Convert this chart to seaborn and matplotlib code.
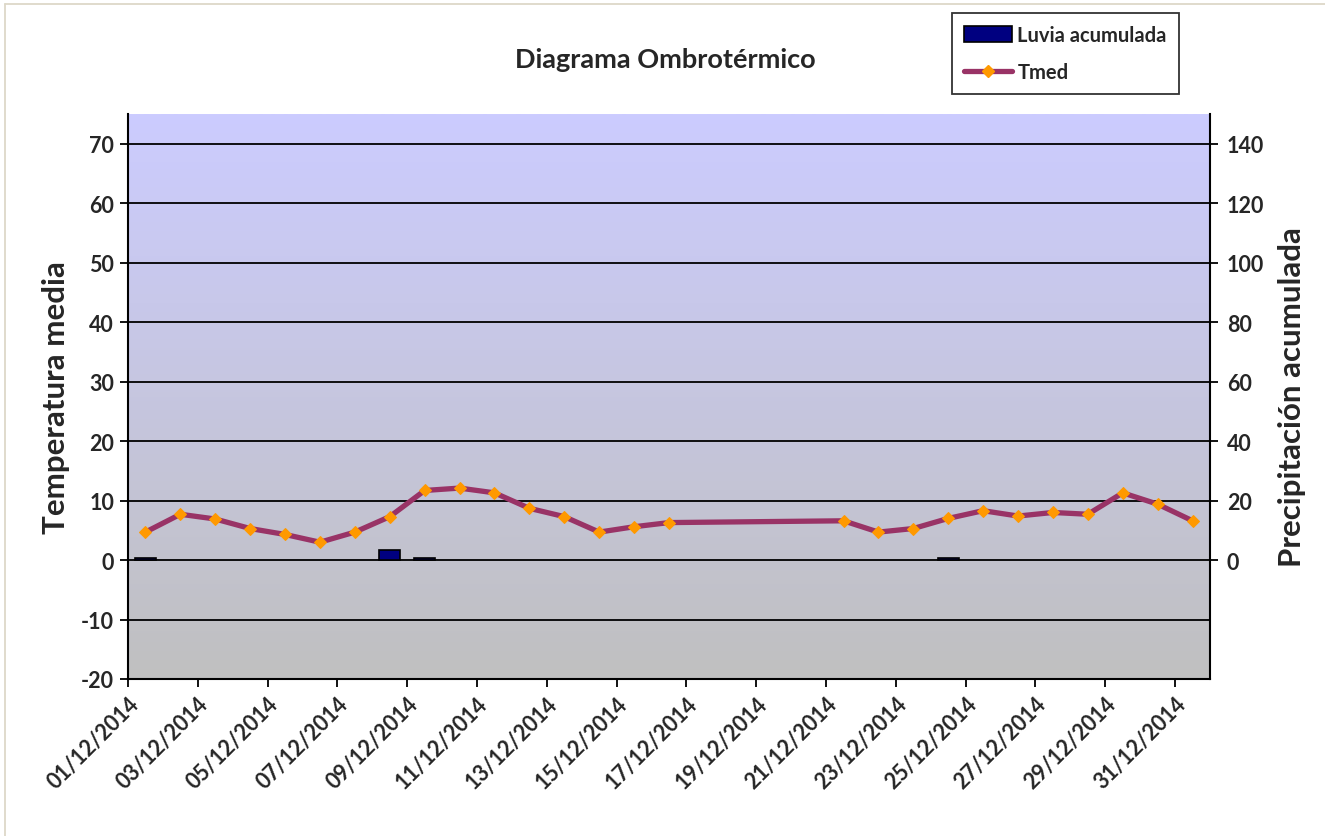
import numpy as np
import pandas as pd
import matplotlib
matplotlib.use("Agg")
import matplotlib.pyplot as plt
from matplotlib.colors import LinearSegmentedColormap
from matplotlib.lines import Line2D
from matplotlib.patches import Patch
import seaborn as sns

# Data (December 2014)
temp_days = [1, 2, 3, 4, 5, 6, 7, 8, 9, 10, 11, 12, 13, 14, 15, 16,
             21, 22, 23, 24, 25, 26, 27, 28, 29, 30, 31]
tmed = [4.7, 7.7, 6.9, 5.3, 4.3, 3.0, 4.7, 7.3, 11.7, 12.1, 11.3, 8.7, 7.3, 4.7, 5.6, 6.3,
        6.6, 4.7, 5.3, 7.0, 8.3, 7.4, 8.0, 7.7, 11.3, 9.4, 6.6]
rain_days = [1, 8, 9, 24]
rain = [0.8, 3.5, 0.8, 0.8]
tick_days = list(range(1, 32, 2))
tick_labels = [f"{d:02d}/12/2014" for d in tick_days]

sns.set_style("white")
plt.rcParams['font.family'] = ['Lato', 'DejaVu Sans']
plt.rcParams['font.weight'] = 'bold'
plt.rcParams['axes.unicode_minus'] = False

fig = plt.figure(figsize=(13.25, 8.37), dpi=100)
ax = fig.add_axes([128 / 1325, 1 - 680 / 837, (1210 - 128) / 1325, (680 - 115) / 837])

# gradient background (lavender on top to grey at bottom)
cmap = LinearSegmentedColormap.from_list("bg", ["#C0C0C0", "#CCCCFF"])
grad = np.linspace(0, 1, 256).reshape(-1, 1)
ax.imshow(grad, extent=[0, 1, 0, 1], transform=ax.transAxes, aspect='auto',
          cmap=cmap, origin='lower', zorder=0)

df_t = pd.DataFrame({"day": temp_days, "tmed": tmed})
sns.lineplot(data=df_t, x="day", y="tmed", ax=ax, color="#993366", lw=3.8,
             marker="D", markersize=6.5, markerfacecolor="#FF9900",
             markeredgecolor="#FF9900", sort=False, zorder=3)

ax.set_xlim(0.5, 31.5)
ax.set_ylim(-20, 75)
ax.set_yticks(range(-20, 71, 10))
ax.set_xticks([d - 0.5 for d in tick_days])
ax.set_xticklabels(tick_labels, rotation=45, ha='right', rotation_mode='anchor',
                   fontsize=15.5, fontweight='bold')
for lab in ax.get_yticklabels():
    lab.set_fontsize(15.5)
    lab.set_fontweight('bold')
for y in range(-10, 71, 10):
    ax.axhline(y, color='black', lw=1.3, zorder=1)
ax.tick_params(axis='both', direction='out', length=6, width=1.3, color='black',
               left=True, bottom=True, pad=4)
ax.set_xlabel("")
ax.set_ylabel("Temperatura media", fontsize=22.5, fontweight='bold', labelpad=8)
for s in ['left', 'bottom', 'right']:
    ax.spines[s].set_color('black')
    ax.spines[s].set_linewidth(1.5)
ax.spines['top'].set_visible(False)

ax2 = ax.twinx()
df_r = pd.DataFrame({"day": rain_days, "rain": rain})
sns.barplot(data=df_r, x="day", y="rain", ax=ax2, native_scale=True, width=0.6,
            color="#000080", edgecolor="black", linewidth=1.2, saturation=1)
ax2.set_xlim(0.5, 31.5)
ax2.set_ylim(-40, 150)
ax2.set_yticks(range(0, 141, 20))
for lab in ax2.get_yticklabels():
    lab.set_fontsize(15.5)
    lab.set_fontweight('bold')
ax2.tick_params(axis='y', direction='out', length=6, width=1.3, color='black',
                right=True, pad=6)
ax2.set_ylabel("Precipitación acumulada", fontsize=22.5, fontweight='bold', labelpad=10)
ax2.set_xlabel("")
ax2.patch.set_visible(False)
for s in ax2.spines.values():
    s.set_visible(False)

fig.text(665 / 1325, 1 - 60 / 837, "Diagrama Ombrotérmico", ha='center', va='center',
         fontsize=19.5, fontweight='bold')

handles = [Patch(facecolor="#000080", edgecolor="black", linewidth=1.2),
           Line2D([0], [0], color="#993366", lw=3.8, marker="D", markersize=6.5,
                  markerfacecolor="#FF9900", markeredgecolor="#FF9900")]
leg = fig.legend(handles, ["Luvia acumulada", "Tmed"], loc='upper left',
                 bbox_to_anchor=(952 / 1325, 1 - 14 / 837), frameon=True,
                 fancybox=False, edgecolor='black', prop={'size': 14.5, 'weight': 'bold'},
                 handlelength=2.4, handleheight=0.9, handletextpad=0.25, borderpad=0.6,
                 labelspacing=0.85, borderaxespad=0)
leg.get_frame().set_linewidth(1.3)

# outer chart border
fig.add_artist(Line2D([5 / 1325, 5 / 1325], [0, 1 - 5 / 837], color="#DDD8C8", lw=1.3))
fig.add_artist(Line2D([5 / 1325, 1], [1 - 5 / 837, 1 - 5 / 837], color="#DDD8C8", lw=1.3))

fig.savefig("out.png", dpi=100)
